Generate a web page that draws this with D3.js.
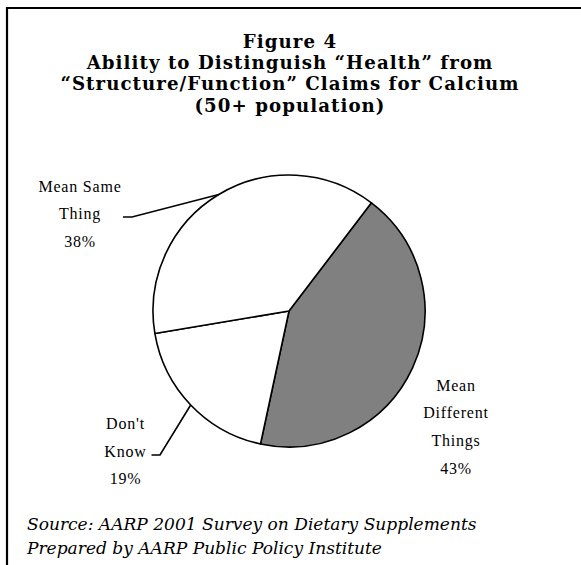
<!DOCTYPE html>
<html>
<head>
<meta charset="utf-8">
<script src="https://cdn.jsdelivr.net/npm/d3@7"></script>
<style>
  html, body { margin: 0; padding: 0; background: #fff; }
  svg { display: block; }
</style>
</head>
<body>
<svg id="chart" width="581" height="565"></svg>
<script>
// Survey answers, drawn clockwise from the upper-right boundary
const categories = ["Mean Different Things", "Don't Know", "Mean Same Thing"];
const values = [43, 19, 38];
const labelLines = [
  ["Mean", "Different", "Things", "43%"],
  ["Don't", "Know", "19%"],
  ["Mean Same", "Thing", "38%"]
];
const sliceFills = ["#808080", "#ffffff", "#ffffff"];

const titleLines = [
  "Figure 4",
  "Ability to Distinguish \u201cHealth\u201d from",
  "\u201cStructure/Function\u201d Claims for Calcium",
  "(50+ population)"
];
const sourceLines = [
  "Source: AARP 2001 Survey on Dietary Supplements",
  "Prepared by AARP Public Policy Institute"
];

const W = 581, H = 565;
const svg = d3.select("#chart");

// frame: top and left rules
svg.append("line").attr("x1", 6).attr("x2", W).attr("y1", 8).attr("y2", 8)
  .attr("stroke", "#000").attr("stroke-width", 2.2);
svg.append("line").attr("x1", 7).attr("x2", 7).attr("y1", 7).attr("y2", H)
  .attr("stroke", "#000").attr("stroke-width", 2.2);

// title, bold serif; the widest line is spread to fill its column
const titleFs = 18.2;
const titleBase = [48, 69.2, 90.4, 111.6];
const titleText = svg.append("g").selectAll("text").data(titleLines).join("text")
  .attr("x", 290)
  .attr("y", (d, i) => titleBase[i])
  .attr("text-anchor", "middle")
  .attr("font-family", "'DejaVu Serif', serif")
  .attr("font-weight", "bold")
  .attr("font-size", titleFs)
  .attr("fill", "#000")
  .text(d => d);
{
  const node = titleText.nodes()[2];
  const w = node.getComputedTextLength();
  const n = titleLines[2].length;
  if (w < 458) {
    titleText.attr("letter-spacing", ((458 - w) / (n - 1)).toFixed(2) + "px");
  } else {
    titleText.attr("font-size", titleFs * 458 / w);
  }
}

// pie
const cx = 289, cy = 311, R = 136;
const startDeg = 37.3;
const pie = d3.pie().sort(null).value(d => d)
  .startAngle(startDeg * Math.PI / 180)
  .endAngle((startDeg + 360) * Math.PI / 180);
const arcs = pie(values);
const arc = d3.arc().innerRadius(0).outerRadius(R);

const pieG = svg.append("g").attr("transform", `translate(${cx},${cy})`);
pieG.selectAll("path").data(arcs).join("path")
  .attr("d", arc)
  .attr("fill", (d, i) => sliceFills[i])
  .attr("stroke", "#000")
  .attr("stroke-width", 1.6)
  .attr("stroke-linejoin", "round");

// labels
const labelFont = "'Liberation Serif', 'Times New Roman', serif";
const labelPos = [
  { x: 456, y0: 390.5, step: 27.8 },
  { x: 125.5, y0: 429.3, step: 27.5 },
  { x: 80, y0: 191.5, step: 27.6 }
];
const labelG = svg.append("g");
labelLines.forEach((lines, i) => {
  const p = labelPos[i];
  labelG.append("g").selectAll("text").data(lines).join("text")
    .attr("x", p.x)
    .attr("y", (d, j) => p.y0 + j * p.step)
    .attr("text-anchor", "middle")
    .attr("font-family", labelFont)
    .attr("font-size", 16)
    .attr("letter-spacing", "0.8px")
    .attr("fill", "#000")
    .text(d => d);
});

// leader lines from label to the middle of each white slice's rim
const leaders = [
  { slice: 2, end: [123, 217], elbow: [132, 217] },
  { slice: 1, end: [151.5, 455], elbow: [160, 455] }
];
leaders.forEach(l => {
  const a = arcs[l.slice];
  const mid = (a.startAngle + a.endAngle) / 2;
  const rim = [cx + R * Math.sin(mid), cy - R * Math.cos(mid)];
  svg.append("path")
    .attr("d", d3.line()([l.end, l.elbow, rim]))
    .attr("fill", "none")
    .attr("stroke", "#000")
    .attr("stroke-width", 1.6);
});

// source note
const srcText = svg.append("g").selectAll("text").data(sourceLines).join("text")
  .attr("x", 27)
  .attr("y", (d, i) => 529.5 + i * 24)
  .attr("font-family", "'DejaVu Serif', serif")
  .attr("font-style", "italic")
  .attr("font-size", 16)
  .attr("fill", "#000")
  .text(d => d);
{
  const w = srcText.nodes()[0].getComputedTextLength();
  srcText.attr("font-size", 16 * 450 / w);
}
</script>
</body>
</html>
